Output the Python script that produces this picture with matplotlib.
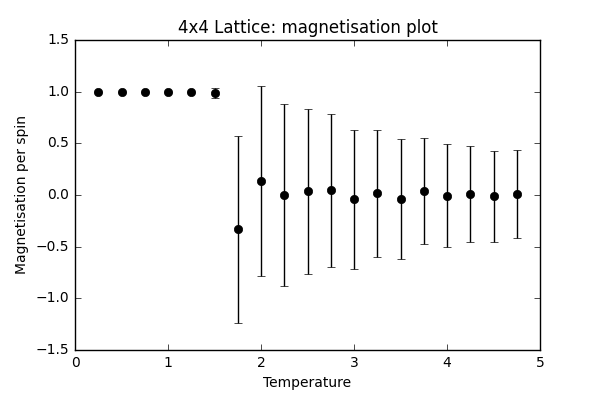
import matplotlib
matplotlib.use('Agg')
import matplotlib.pyplot as plt

plt.style.use('classic')
plt.rcParams['font.size'] = 10

# Temperature values and mean magnetisation per spin with error (std)
temps = [0.25, 0.5, 0.75, 1.0, 1.25, 1.5, 1.75, 2.0, 2.25, 2.5,
         2.75, 3.0, 3.25, 3.5, 3.75, 4.0, 4.25, 4.5, 4.75]
mag = [1.0, 1.0, 1.0, 1.0, 1.0, 0.984, -0.332, 0.132, -0.003, 0.035,
       0.045, -0.042, 0.016, -0.04, 0.038, -0.005, 0.006, -0.012, 0.006]
mag_err = [0.0, 0.0, 0.0, 0.0, 0.0, 0.048, 0.907, 0.92, 0.88, 0.80,
           0.74, 0.67, 0.615, 0.58, 0.51, 0.495, 0.465, 0.44, 0.425]

fig = plt.figure(figsize=(6, 4), dpi=100)
fig.subplots_adjust(left=0.125, right=0.9, top=0.9, bottom=0.125)
ax = fig.add_subplot(111)

ax.errorbar(temps, mag, yerr=mag_err, fmt='ko', ecolor='k', capsize=3,
            markersize=6)

ax.set_xlim(0, 5)
ax.set_ylim(-1.5, 1.5)
ax.set_xlabel('Temperature')
ax.set_ylabel('Magnetisation per spin')
ax.set_title('4x4 Lattice: magnetisation plot', fontsize=12)

fig.savefig('out.png', dpi=100, facecolor='white')
